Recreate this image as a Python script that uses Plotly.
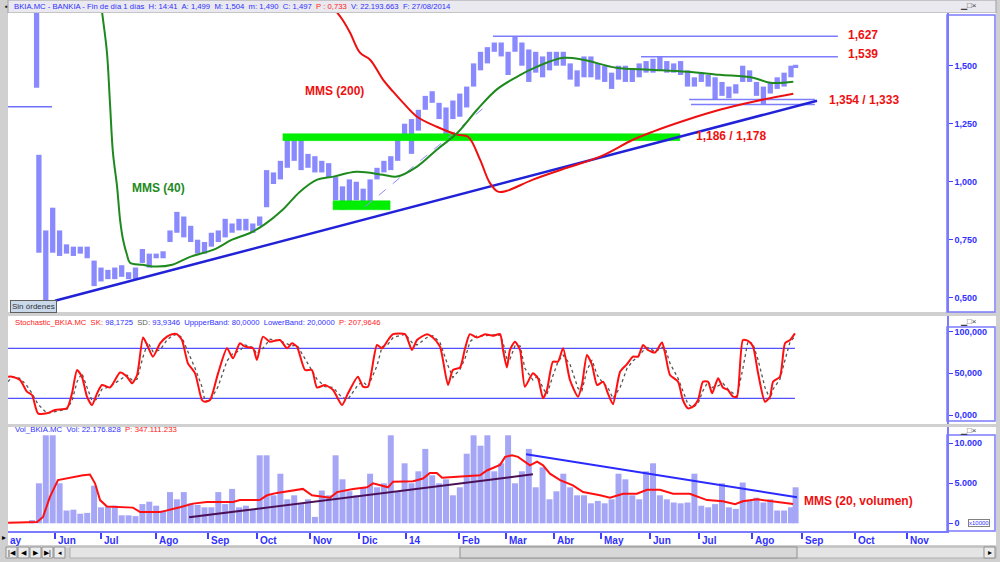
import plotly.graph_objects as go

W, H = 1000, 562
def px(x): return x / W
def py(y): return 1 - y / H

# ---------------- data (x = trading-day index, 0 = 3 Jun 2013) ----------------
month_ticks = [0, 20, 44, 66.5, 88, 111, 132, 152.5, 175.5, 196, 217, 237.5, 258.5, 280, 303, 325, 348, 370.5]
month_labels = ["Jun", "Jul", "Ago", "Sep", "Oct", "Nov", "Dic", "14", "Feb", "Mar", "Abr", "May",
                "Jun", "Jul", "Ago", "Sep", "Oct", "Nov"]

price_t = [-8, -7] + list(range(-4, 321, 3)) + [322]
price_high = [1.80, 1.116, 0.79, 0.888, 0.79, 0.73, 0.72, 0.72, 0.72, 0.66,
              0.63, 0.62, 0.63, 0.64, 0.61, 0.63, 0.71, 0.69, 0.69, 0.70,
              0.79, 0.87, 0.85, 0.81, 0.75, 0.74, 0.78, 0.79, 0.84, 0.82,
              0.84, 0.84, 0.82, 0.85, 1.05, 1.04, 1.09, 1.19, 1.19, 1.18,
              1.12, 1.11, 1.09, 1.08, 1.02, 0.98, 1.01, 1.00, 0.97, 1.01,
              1.06, 1.09, 1.11, 1.18, 1.25, 1.27, 1.31, 1.37, 1.39, 1.34,
              1.32, 1.35, 1.38, 1.41, 1.51, 1.56, 1.58, 1.60, 1.60, 1.56,
              1.627, 1.60, 1.57, 1.56, 1.54, 1.56, 1.56, 1.56, 1.51, 1.48,
              1.54, 1.54, 1.51, 1.50, 1.47, 1.50, 1.50, 1.49, 1.51, 1.52,
              1.53, 1.54, 1.52, 1.51, 1.52, 1.48, 1.45, 1.47, 1.46, 1.45,
              1.43, 1.41, 1.42, 1.50, 1.48, 1.43, 1.41, 1.43, 1.45, 1.47,
              1.50, 1.504]
price_low = [1.405, 0.694, 0.49, 0.694, 0.68, 0.69, 0.68, 0.69, 0.67, 0.55,
             0.57, 0.58, 0.58, 0.59, 0.58, 0.58, 0.65, 0.63, 0.67, 0.67,
             0.74, 0.78, 0.76, 0.74, 0.69, 0.69, 0.72, 0.74, 0.76, 0.78,
             0.79, 0.79, 0.78, 0.81, 0.89, 0.99, 1.01, 1.06, 1.09, 1.05,
             1.06, 1.04, 1.04, 1.02, 0.92, 0.88, 0.91, 0.92, 0.89, 0.91,
             1.01, 1.04, 1.05, 1.09, 1.18, 1.12, 1.22, 1.31, 1.34, 1.27,
             1.19, 1.27, 1.28, 1.32, 1.41, 1.48, 1.51, 1.56, 1.54, 1.46,
             1.56, 1.50, 1.43, 1.47, 1.45, 1.48, 1.50, 1.50, 1.44, 1.41,
             1.45, 1.45, 1.44, 1.43, 1.40, 1.44, 1.43, 1.43, 1.45, 1.47,
             1.47, 1.48, 1.47, 1.47, 1.46, 1.41, 1.41, 1.43, 1.41, 1.354,
             1.37, 1.36, 1.38, 1.43, 1.43, 1.37, 1.333, 1.38, 1.40, 1.41,
             1.45, 1.490]
assert len(price_t) == len(price_high) == len(price_low)

early_level_t = [-20.4, -1.3]
early_level = [1.323, 1.323]

ma40_t = [19.5, 20.9, 22.6, 23.9, 25.2, 27, 28.3, 29.6, 31.3, 32.6,
          38, 44, 51, 59, 69, 77, 85, 91, 99, 106.5,
          114, 121, 131, 142.6, 148.7, 157.4, 166, 175, 183.5, 192,
          201, 209.6, 221, 229.6, 244, 258.7, 274.8, 289, 303.5, 311, 321]
ma40 = [1.80, 1.698, 1.556, 1.341, 1.125, 0.978, 0.836, 0.75, 0.685, 0.651,
        0.642, 0.634, 0.642, 0.677, 0.707, 0.75, 0.78, 0.815, 0.879, 0.957,
        1.009, 1.022, 1.043, 1.03, 1.022, 1.065, 1.138, 1.211, 1.31, 1.397,
        1.453, 1.496, 1.534, 1.526, 1.491, 1.483, 1.474, 1.461, 1.448, 1.427, 1.431]
assert len(ma40_t) == len(ma40)

ma200_t = [121, 125, 128.3, 132.6, 137, 142.6, 147, 151.3, 157.4, 166,
           174.8, 179.6, 184.8, 189, 192.6, 196.5, 207.8, 222.6, 237, 251.3,
           260, 274.8, 289, 303.5, 321]
ma200 = [1.75, 1.698, 1.642, 1.556, 1.526, 1.44, 1.388, 1.341, 1.28, 1.237,
         1.203, 1.194, 1.095, 0.996, 0.957, 0.961, 1.009, 1.06, 1.108, 1.181,
         1.216, 1.267, 1.31, 1.345, 1.379]
assert len(ma200_t) == len(ma200)

support_t = [0, 331.3]
support = [0.487, 1.349]
dashed_t = [134.8, 187]
dashed = [0.892, 1.323]

# green support zones: (t_start, t_end, low, high)
zone_t0 = [99.1, 120.9]
zone_t1 = [271.7, 145.7]
zone_lo = [1.177, 0.879]
zone_hi = [1.207, 0.918]

# horizontal resistance / support levels
level_values = [1.627, 1.539, 1.354, 1.333]
level_t0 = [190.4, 254.8, 275.7, 276.5]
level_t1 = [340.4, 340.4, 330.4, 330.4]

# stochastic
sk_t = [-20.4, -18.7, -15.2, -12.2, -10, -7.4, -3.5, 0, 5.2, 7.4,
        9.6, 11.7, 13.9, 16.1, 18.3, 20.4, 23.9, 28.3, 31.3, 33.5,
        35.7, 38.3, 40.4, 42.6, 45.7, 48.7, 50.9, 53, 55.2, 57.8,
        60.9, 63.9, 65.2, 67.4, 70.9, 74.8, 77.4, 80.4, 82.6, 86.1,
        87.8, 90.4, 93.5, 97.8, 100.9, 103, 105.2, 108.7, 111.7, 113.9,
        117.4, 120.9, 124.8, 127.4, 131.7, 133.9, 136.1, 140, 142.2, 144.8,
        147, 152.2, 155.2, 157.4, 161.7, 164.3, 167.4, 170.9, 173, 176.1,
        178.3, 180.4, 183.5, 187, 190.4, 193.5, 194.8, 196.5, 197.8, 200,
        202.2, 204.3, 207.8, 210, 212.2, 213.9, 216.5, 218.7, 220.9, 223.9,
        227.4, 229.1, 231.3, 233.5, 235.7, 238.3, 240.4, 242.6, 245.7, 248.7,
        251.3, 253.5, 255.7, 257.8, 260.9, 263.9, 265.2, 267.4, 270.9, 273,
        275.2, 277.4, 279.6, 281.7, 283.9, 285.7, 288.3, 290.4, 292.6, 294.8,
        296.5, 299.1, 301.3, 303.5, 305.7, 308.7, 310.9, 312.2, 315.2, 317.4,
        319.6, 321.7]
sk = [46, 46, 42, 28, 24, 2, 2, 6, 8, 26,
      54, 46, 22, 12, 26, 36, 33, 51, 46, 38,
      48, 93, 82, 70, 86, 94, 97, 97, 90, 62,
      50, 18, 16, 18, 50, 80, 68, 86, 82, 80,
      66, 94, 88, 90, 80, 86, 82, 54, 54, 33,
      36, 30, 12, 26, 46, 34, 34, 84, 80, 90,
      97, 97, 78, 90, 97, 93, 82, 36, 54, 57,
      80, 97, 93, 97, 95, 97, 78, 57, 78, 88,
      78, 34, 50, 44, 20, 30, 64, 64, 80, 42,
      22, 36, 72, 60, 36, 40, 26, 13, 52, 61,
      70, 70, 84, 78, 75, 87, 75, 48, 40, 18,
      8, 10, 18, 40, 40, 26, 44, 33, 30, 22,
      22, 90, 89, 82, 50, 16, 22, 40, 46, 86,
      90, 98]
sd = [40, 46, 44, 35, 26, 13, 2, 4, 7, 17,
      40, 50, 34, 17, 19, 31, 34, 42, 48, 42,
      43, 70, 87, 76, 78, 90, 95, 97, 93, 76,
      56, 34, 17, 17, 34, 65, 74, 77, 84, 81,
      73, 80, 91, 89, 85, 83, 84, 68, 54, 43,
      34, 33, 21, 19, 36, 40, 34, 59, 82, 85,
      93, 97, 87, 84, 93, 95, 87, 59, 45, 55,
      68, 88, 95, 95, 96, 96, 87, 67, 67, 83,
      83, 56, 42, 47, 32, 25, 47, 64, 72, 61,
      32, 29, 54, 66, 48, 38, 33, 20, 33, 56,
      65, 70, 77, 81, 76, 81, 81, 62, 44, 29,
      13, 9, 14, 29, 40, 33, 35, 38, 31, 26,
      22, 56, 89, 85, 66, 33, 19, 31, 43, 66,
      88, 94]
assert len(sk_t) == len(sk) == len(sd)
stoch_bands = [80, 20]
band_t = [-20.4, 321.7]

# volume (x10000)
vol_t = [-10, -7] + list(range(-4, 321, 3)) + [322]
volume = [400, 5000, 11000, 11000, 5000, 1600, 1700, 1200, 1300, 4700,
          2000, 2100, 2200, 1000, 1000, 900, 2400, 2700, 2200, 1600,
          3900, 3000, 3900, 2500, 2300, 2000, 2000, 3900, 2400, 4300,
          2000, 2200, 1800, 8500, 8500, 3500, 6200, 3000, 3500, 2500,
          3000, 800, 4100, 3500, 8500, 5500, 4000, 3500, 4500, 6200,
          4500, 5000, 11000, 4000, 7500, 5000, 6500, 9300, 6000, 5000,
          5500, 3500, 4500, 8700, 11000, 9700, 11000, 6500, 7500, 11000,
          5000, 6500, 9300, 4500, 7000, 3000, 4000, 6200, 4500, 3500,
          3500, 2500, 2800, 2500, 3000, 6200, 5500, 3500, 3000, 6500,
          7500, 3500, 3000, 2600, 2500, 2600, 6200, 2200, 2000, 2400,
          5000, 2000, 1800, 5100, 2800, 3200, 2600, 3000, 1600, 1600,
          2000, 4500]
assert len(vol_t) == len(volume)

vma_t = [-20.4, -7.8, -5.2, -2.2, 1.3, 6.5, 12.2, 15.2, 17.4, 19.6,
         22.6, 33.9, 37, 45.7, 48.7, 54.3, 60, 66, 77.4, 80.4,
         89, 92.2, 96.5, 100.9, 107.8, 111.7, 119.6, 122.6, 129.6, 135.7,
         138.3, 144.8, 147, 155.7, 160, 163, 166, 168.3, 176, 184.8,
         187.8, 193.5, 195.7, 198.7, 201.3, 203.5, 206.5, 209.6, 212.2, 215.2,
         219.6, 225.2, 229.6, 237, 241.3, 247, 253, 257.4, 263, 268.7,
         276, 283.5, 290.4, 295.7, 299, 305.2, 314, 319.6, 320.9]
vma = [80, 170, 800, 3300, 5400, 5700, 6000, 6100, 5000, 2900,
       2100, 1960, 1400, 1400, 1600, 2000, 2460, 2670, 2670, 2900,
       2900, 3500, 3800, 4000, 4300, 3500, 3200, 3900, 4300, 4500,
       5000, 4500, 5200, 5250, 5600, 6300, 6300, 5700, 5800, 6000,
       6600, 7300, 8300, 8500, 8300, 7900, 7250, 7700, 7250, 6200,
       5400, 4750, 3900, 3500, 3200, 3700, 3700, 4200, 4200, 3700,
       3700, 2900, 2750, 2400, 2750, 3000, 2670, 2400, 2400]
assert len(vma_t) == len(vma)

vol_up_t = [58.3, 207.8]
vol_up = [750, 6125]
vol_down_t = [204.8, 322.6]
vol_down = [8625, 3250]

price_ticks = [0.5, 0.75, 1.0, 1.25, 1.5]
price_labels = ["0,500", "0,750", "1,000", "1,250", "1,500"]
stoch_ticks = [0, 50, 100]
stoch_labels = ["0,000", "50,000", "100,000"]
vol_ticks = [0, 5000, 10000]
vol_labels = ["0", "5.000", "10.000"]

# ---------------- figure ----------------
FONT = "Liberation Sans, Arial, sans-serif"
BLUE_TXT = "#3030ff"
fig = go.Figure()

# price bars
fig.add_trace(go.Bar(x=price_t, y=[h - l for h, l in zip(price_high, price_low)], base=price_low,
                     width=2.3, marker=dict(color="#8a8aff", line=dict(width=0)),
                     xaxis="x", yaxis="y", hoverinfo="skip"))
fig.add_trace(go.Scatter(x=early_level_t, y=early_level, mode="lines",
                         line=dict(color="#7070ff", width=1.5), xaxis="x", yaxis="y"))
# green zones
for a, b, lo, hi in zip(zone_t0, zone_t1, zone_lo, zone_hi):
    fig.add_trace(go.Scatter(x=[a, b, b, a, a], y=[lo, lo, hi, hi, lo], mode="lines", fill="toself",
                             fillcolor="#00ee00", line=dict(color="#00ee00", width=0.5),
                             xaxis="x", yaxis="y"))
# levels
for v, a, b in zip(level_values, level_t0, level_t1):
    fig.add_trace(go.Scatter(x=[a, b], y=[v, v], mode="lines", line=dict(color="#7d7dff", width=1.5),
                             xaxis="x", yaxis="y"))
fig.add_trace(go.Scatter(x=dashed_t, y=dashed, mode="lines",
                         line=dict(color="#8c8cff", width=1, dash="dash"), xaxis="x", yaxis="y"))
fig.add_trace(go.Scatter(x=support_t, y=support, mode="lines",
                         line=dict(color="#2121d8", width=2.5), xaxis="x", yaxis="y"))
fig.add_trace(go.Scatter(x=ma200_t, y=ma200, mode="lines", line=dict(color="#ee1010", width=2, shape="spline"),
                         xaxis="x", yaxis="y"))
fig.add_trace(go.Scatter(x=ma40_t, y=ma40, mode="lines", line=dict(color="#1e8a1e", width=2, shape="spline"),
                         xaxis="x", yaxis="y"))

# stochastic
for b in stoch_bands:
    fig.add_trace(go.Scatter(x=band_t, y=[b, b], mode="lines", line=dict(color="#5050ff", width=1.2),
                             xaxis="x2", yaxis="y2"))
fig.add_trace(go.Scatter(x=sk_t, y=sd, mode="lines", line=dict(color="#555555", width=1.3, dash="dot"),
                         xaxis="x2", yaxis="y2"))
fig.add_trace(go.Scatter(x=sk_t, y=sk, mode="lines", line=dict(color="#ff1010", width=2, shape="spline", smoothing=0.6),
                         xaxis="x2", yaxis="y2"))

# volume
fig.add_trace(go.Bar(x=vol_t, y=volume, width=2.6, marker=dict(color="#a6a6f6", line=dict(width=0)),
                     xaxis="x3", yaxis="y3", hoverinfo="skip"))
fig.add_trace(go.Scatter(x=vma_t, y=vma, mode="lines", line=dict(color="#ff1010", width=2),
                         xaxis="x3", yaxis="y3"))
fig.add_trace(go.Scatter(x=vol_up_t, y=vol_up, mode="lines", line=dict(color="#4a0f55", width=2),
                         xaxis="x3", yaxis="y3"))
fig.add_trace(go.Scatter(x=vol_down_t, y=vol_down, mode="lines", line=dict(color="#2a2aff", width=2),
                         xaxis="x3", yaxis="y3"))

XR = [-20.43, 387.83]
XD = [px(8), px(947)]
common_x = dict(domain=XD, range=XR, showgrid=False, zeroline=False, fixedrange=True)
ytick = dict(side="right", showgrid=False, zeroline=False, ticks="outside", ticklen=4,
             tickcolor="#4040ff", showline=True, linecolor="#7b7bff", linewidth=1.5,
             tickfont=dict(family=FONT, size=9, color=BLUE_TXT, weight="bold"))

fig.update_layout(
    width=W, height=H, margin=dict(l=0, r=0, t=0, b=0),
    paper_bgcolor="#d0d0d0", plot_bgcolor="white", showlegend=False, barmode="overlay",
    xaxis=dict(anchor="y", showticklabels=False, ticks="", **common_x),
    xaxis2=dict(anchor="y2", showticklabels=False, ticks="", matches="x", **common_x),
    xaxis3=dict(anchor="y3", tickmode="array", tickvals=month_ticks, ticktext=month_labels,
                showticklabels=False, ticks="outside", ticklen=6, tickcolor="#4040ff", tickwidth=1.5,
                showline=True, linecolor="#7b7bff", linewidth=1.5, matches="x", **common_x),
    yaxis=dict(anchor="x", domain=[py(312), py(13)], range=[0.4384, 1.7272],
               tickvals=price_ticks, ticktext=price_labels, **ytick),
    yaxis2=dict(anchor="x2", domain=[py(424), py(316)], range=[-10.8, 118.8],
                tickvals=stoch_ticks, ticktext=stoch_labels, **ytick),
    yaxis3=dict(anchor="x3", domain=[py(531), py(427)], range=[-962, 12037],
                tickvals=vol_ticks, ticktext=vol_labels, **ytick),
)

shapes = []
def rect(x0, y0, x1, y1, fill, line="rgba(0,0,0,0)", lw=0, layer="below"):
    shapes.append(dict(type="rect", xref="paper", yref="paper", x0=px(x0), x1=px(x1),
                       y0=py(y1), y1=py(y0), fillcolor=fill, line=dict(color=line, width=lw), layer=layer))

# window areas
rect(8, 0, 996, 13, "#e9e9ef", "#a0a0a0", 1)
rect(8, 13, 996, 312, "white")
rect(8, 316, 996, 424, "white")
rect(8, 427, 996, 545, "white")
# axis boxes
rect(947, 15, 995, 312, "rgba(0,0,0,0)", "#7b7bff", 1.5, "above")
rect(947, 327, 995, 421, "rgba(0,0,0,0)", "#7b7bff", 1.5, "above")
rect(947, 435, 995, 531, "rgba(0,0,0,0)", "#7b7bff", 1.5, "above")
# bottom navigation bar
rect(70, 547, 996, 558, "#e4e4e4", "#b0b0b0", 1)
rect(460, 547, 797, 558, "#d8d8d8", "#909090", 1)
for bx in [6, 18, 30, 42, 54]:
    rect(bx, 547, bx + 11, 558, "#ececec", "#909090", 1)
rect(984, 547, 995, 558, "#ececec", "#909090", 1)
fig.update_layout(shapes=shapes)

anns = []
def ann(x, y, text, size=8, color=BLUE_TXT, bold=False, xanchor="left", **kw):
    d = dict(xref="paper", yref="paper", x=px(x), y=py(y), text=text, showarrow=False,
             xanchor=xanchor, yanchor="middle",
             font=dict(family=FONT, size=size, color=color, weight="bold" if bold else "normal"))
    d.update(kw)
    anns.append(d)

# headers
ann(12, 6.5, "BKIA.MC - BANKIA - Fin de día 1 días&nbsp; H: 14:41&nbsp; A: 1,499&nbsp; M: 1,504&nbsp; "
              "m: 1,490&nbsp; C: 1,497&nbsp; <span style='color:#ff2020'>P : 0,733</span>&nbsp; "
              "V: 22.193.663&nbsp; F: 27/08/2014", size=7.7)
ann(3, 6.5, "▪", size=8, color="#202020")
ann(13, 322, "<span style='color:#ff2020'>Stochastic_BKIA.MC&nbsp; SK:</span> 98,1725&nbsp; "
             "<span style='color:#606060'>SD:</span> 93,9346&nbsp; UppperBand: 80,0000&nbsp; "
             "LowerBand: 20,0000&nbsp; <span style='color:#ff2020'>P: 207,9646</span>", size=7.7)
ann(13, 429, "Vol_BKIA.MC&nbsp; Vol: 22.176.828&nbsp; <span style='color:#ff2020'>P: 347.111.233</span>", size=7.8)
for yy in [6, 321, 430]:
    ann(968, yy, "▁□×", size=8, color="#404040", xanchor="center")

# month labels (to the right of each tick, as in the reference)
for tv, lab in zip(month_ticks, month_labels):
    anns.append(dict(xref="x3", yref="paper", x=tv, y=py(540.5), text=lab, showarrow=False,
                     xanchor="left", yanchor="middle", xshift=1,
                     font=dict(family=FONT, size=10, color=BLUE_TXT, weight="bold")))
ann(8, 540.5, "ay", size=10, color=BLUE_TXT, bold=True)

# chart labels
ann(158, 188, "MMS (40)", size=12, color="#1e8a1e", bold=True, xanchor="center")
ann(334, 91, "MMS (200)", size=12, color="#ee1010", bold=True, xanchor="center")
ann(846, 35, "1,627", size=12, color="#ee1010", bold=True)
ann(846, 54.5, "1,539", size=12, color="#ee1010", bold=True)
ann(827, 100, "1,354 / 1,333", size=12, color="#ee1010", bold=True)
ann(694, 136, "1,186 / 1,178", size=12, color="#ee1010", bold=True)
ann(802, 501, "MMS (20, volumen)", size=12, color="#ee1010", bold=True)
ann(10, 306, "Sin órdenes", size=8, color="#303040", bgcolor="#c9d9e9", bordercolor="#606060",
    borderwidth=1, borderpad=1)
ann(979, 523, "x10000", size=6, color="#3030ff", xanchor="center", bgcolor="white",
    bordercolor="#808080", borderwidth=1, borderpad=0)
for bx, g in zip([6, 18, 30, 42, 54], ["|◀", "◀", "▶", "▶|", "◂"]):
    ann(bx + 5.5, 552.5, g, size=7, color="black", xanchor="center")
ann(989.5, 552.5, "▸", size=8, color="black", xanchor="center")
ann(4, 537, "▸", size=8, color="black", xanchor="center")
fig.update_layout(annotations=anns)

fig.write_html("out.html")
